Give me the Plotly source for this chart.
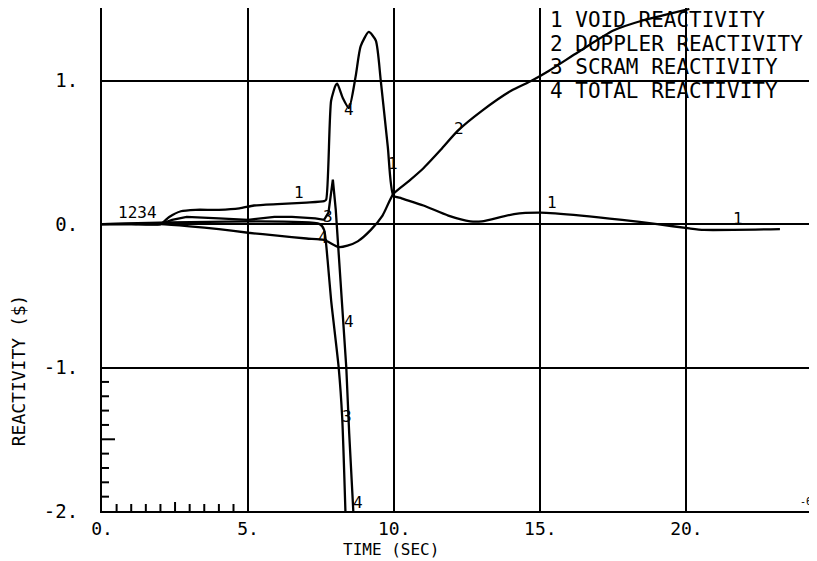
import numpy as np
import plotly.graph_objects as go

# ---- data ----
t_void = [0, 1.0, 2.0, 2.3, 2.7, 3.2, 4.0, 4.7, 5.2, 6.0, 7.0, 7.6, 7.67, 7.84, 8.0, 8.05, 8.24, 8.45,
          8.68, 8.85, 9.13, 9.37, 9.54, 9.78, 9.97, 10.25, 11.0, 11.85, 12.6, 13.0, 14.1, 15.0, 16.4,
          17.8, 19.0, 20.1, 20.6, 23.2]
v_void = [0, 0, 0.0, 0.05, 0.09, 0.10, 0.10, 0.11, 0.13, 0.14, 0.15, 0.16, 0.17, 0.86, 0.97, 0.98, 0.88, 0.81,
          1.03, 1.24, 1.34, 1.28, 1.00, 0.54, 0.20, 0.18, 0.13, 0.06, 0.02, 0.02, 0.07, 0.08, 0.06,
          0.03, 0.0, -0.03, -0.04, -0.035]

t_doppler = [0, 2.0, 3.0, 4.0, 5.0, 6.0, 7.0, 7.6, 8.1, 8.4, 8.75, 9.2, 9.6, 9.97, 10.5, 11.0, 11.6,
             12.17, 13.0, 14.0, 14.7, 15.3, 16.3, 17.5, 18.5, 19.3, 20.1]
v_doppler = [0, 0, -0.015, -0.035, -0.06, -0.08, -0.10, -0.11, -0.16, -0.15, -0.12, -0.04, 0.06, 0.21,
             0.30, 0.39, 0.52, 0.65, 0.79, 0.93, 1.00, 1.07, 1.20, 1.35, 1.42, 1.46, 1.50]

t_scram = [0, 7.45, 7.6, 7.72, 7.84, 8.1, 8.22, 8.33]
v_scram = [0, 0, -0.04, -0.25, -0.53, -1.00, -1.35, -2.0]

t_total = [0, 2.0, 2.4, 2.9, 4.0, 5.0, 5.9, 6.5, 7.3, 7.6, 7.75, 7.9, 8.0, 8.07, 8.25, 8.36, 8.46, 8.6]
v_total = [0, 0, 0.03, 0.05, 0.04, 0.03, 0.05, 0.05, 0.04, 0.03, 0.08, 0.31, 0.10, -0.13, -0.65, -1.0, -1.46, -2.0]

x_ticks = [0, 5, 10, 15, 20]
x_ticktext = ["0.", "5.", "10.", "15.", "20."]
y_ticks = [-2, -1, 0, 1]
y_ticktext = ["-2.", "-1.", "0.", "1."]

legend_lines = ["1 VOID REACTIVITY", "2 DOPPLER REACTIVITY", "3 SCRAM REACTIVITY", "4 TOTAL REACTIVITY"]

# curve label positions (text, t, value)
curve_labels = [("1234", 1.2, 0.08), ("1", 6.75, 0.22), ("3", 7.75, 0.05), ("4", 7.55, -0.09),
                ("4", 8.45, 0.80), ("1", 9.95, 0.42), ("2", 12.2, 0.67), ("1", 15.4, 0.15),
                ("1", 21.75, 0.04), ("4", 8.45, -0.68), ("3", 8.4, -1.34), ("4", 8.75, -1.94)]

FONT = "DejaVu Sans Mono"
X_RANGE = [0, 24.4]
Y_RANGE = [-2, 1.507]

# page body has an 8px default margin: figure is drawn from (8, 8)
OFF = 8
W, H = 817 - OFF, 561 - OFF
PL, PT, PR, PB = 102, 8, 815, 510.6          # plot area in window pixels
ML, MT = PL - OFF, PT - OFF
MR, MB = W - (PR - OFF), H - (PB - OFF)
PW, PH = PR - PL, PB - PT


def px(xw):
    return (xw - PL) / PW


def py(yw):
    return (PB - yw) / PH


fig = go.Figure()
for tt, vv, shape in [(t_void, v_void, "spline"), (t_doppler, v_doppler, "spline"),
                      (t_scram, v_scram, "spline"), (t_total, v_total, "linear")]:
    fig.add_trace(go.Scatter(x=tt, y=vv, mode="lines",
                             line=dict(color="black", width=2.3, shape=shape, smoothing=0.6),
                             showlegend=False, hoverinfo="skip"))

shapes = []
# minor ticks on bottom axis between 0 and 5
for xv in np.arange(0.5, 5.0, 0.5):
    long = abs(xv - 2.5) < 1e-9
    shapes.append(dict(type="line", xref="x", yref="paper", x0=xv, x1=xv, y0=0,
                       y1=(9 if long else 7) / PH, line=dict(color="black", width=2)))
# minor ticks on left axis between -2 and -1
for yv in np.arange(-1.9, -1.0, 0.1):
    long = abs(yv + 1.5) < 1e-9
    shapes.append(dict(type="line", xref="paper", yref="y", x0=0, x1=(13 if long else 7) / PW,
                       y0=yv, y1=yv, line=dict(color="black", width=2)))

annotations = []
for i, s in enumerate(legend_lines):
    annotations.append(dict(text=s, xref="paper", yref="paper", x=px(548),
                            y=py(20 + 23.5 * i), xanchor="left", yanchor="middle",
                            showarrow=False, font=dict(family=FONT, size=21, color="black")))
for txt, tx, vy in curve_labels:
    annotations.append(dict(text=txt, x=tx, y=vy, xref="x", yref="y", showarrow=False,
                            font=dict(family=FONT, size=16, color="black")))
annotations.append(dict(text="REACTIVITY ($)", xref="paper", yref="paper", x=px(18),
                        y=py(370), textangle=-90, showarrow=False,
                        xanchor="center", yanchor="middle",
                        font=dict(family=FONT, size=18, color="black")))
annotations.append(dict(text="TIME (SEC)", xref="paper", yref="paper", x=px(391),
                        y=py(549), showarrow=False, xanchor="center", yanchor="middle",
                        font=dict(family=FONT, size=16, color="black")))
annotations.append(dict(text="-6", xref="paper", yref="paper", x=px(806),
                        y=py(501), showarrow=False, xanchor="center", yanchor="middle",
                        font=dict(family=FONT, size=10, color="black")))

fig.update_layout(
    width=W, height=H,
    margin=dict(l=ML, r=MR, t=MT, b=MB, pad=0),
    paper_bgcolor="white", plot_bgcolor="white",
    shapes=shapes, annotations=annotations,
    xaxis=dict(range=X_RANGE, tickvals=x_ticks, ticktext=x_ticktext, showgrid=True,
               gridcolor="black", gridwidth=2, showline=True, linecolor="black", linewidth=2,
               zeroline=False, ticks="", ticklabelstandoff=0,
               tickfont=dict(family=FONT, size=18, color="black")),
    yaxis=dict(range=Y_RANGE, tickvals=y_ticks, ticktext=y_ticktext, showgrid=True,
               gridcolor="black", gridwidth=2, showline=True, linecolor="black", linewidth=2,
               zeroline=False, ticks="", ticklabelstandoff=18,
               tickfont=dict(family=FONT, size=19, color="black")),
)

fig.write_html("out.html")
